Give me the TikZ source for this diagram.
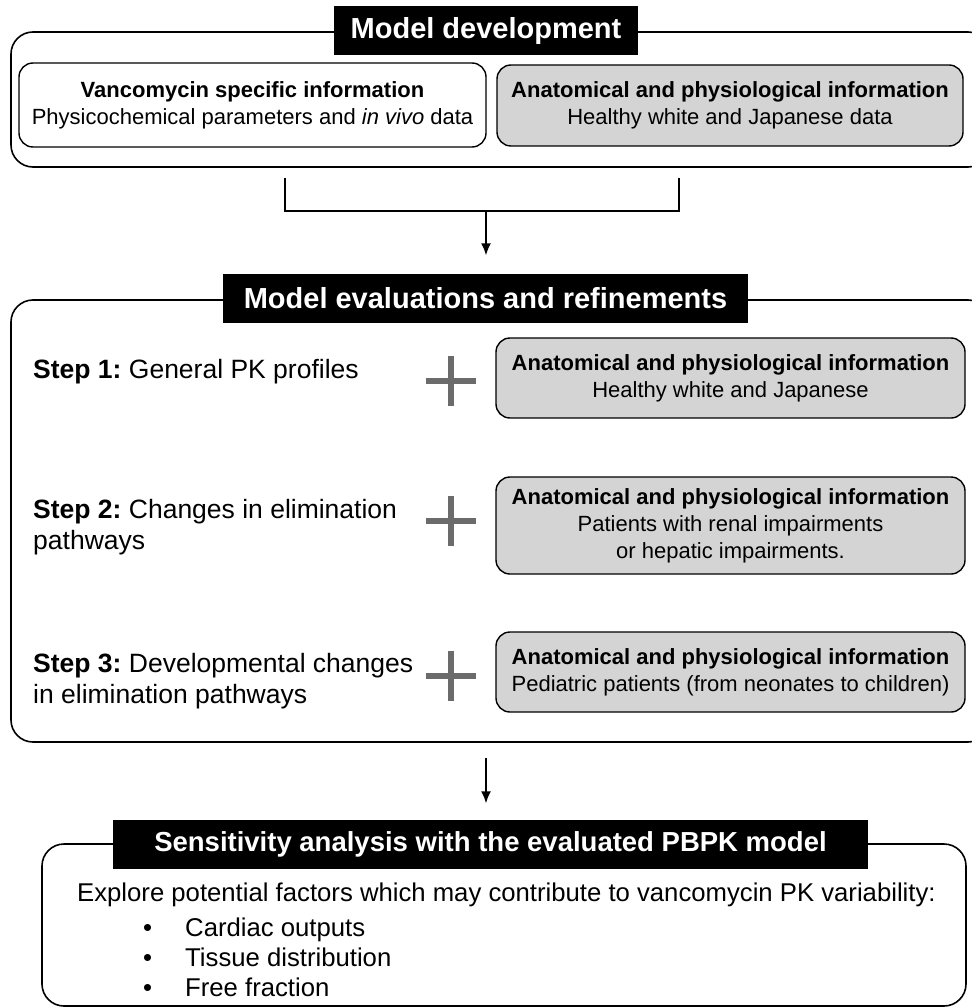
\documentclass[tikz,border=0pt]{standalone}
\usepackage{fontspec}
\setmainfont{Liberation Sans}
\usetikzlibrary{arrows.meta,positioning,calc}
\definecolor{boxgray}{HTML}{D4D4D4}
\definecolor{plusgray}{HTML}{6B6B6B}

\begin{document}
\begin{tikzpicture}[x=1pt,y=-1pt,>={Latex[length=12pt,width=10pt]},
    frame/.style={draw,line width=1.6pt,rounded corners=22pt,inner sep=0pt},
    banner/.style={fill=black,text=white,inner sep=0pt,minimum height=49pt,font=\fontsize{29}{34}\selectfont\bfseries},
    infobox/.style={draw,line width=1.4pt,rounded corners=14pt,fill=boxgray,align=center,inner sep=0pt,font=\fontsize{22}{27}\selectfont},
    steptext/.style={anchor=west,align=left,inner sep=0pt,font=\fontsize{26.5}{31}\selectfont},
    plussign/.style={minimum size=50pt,inner sep=0pt},
    plusbar/.style={line width=5.5pt,plusgray},
    link/.style={line width=1.6pt}]
  \useasboundingbox (0,0) rectangle (971,1008);

  % model development
  \node[frame,minimum width=979pt,minimum height=135pt] (devframe) at (500.5,99.5) {};
  \node[banner,minimum width=304pt] (devbanner) at (486,31) {Model development};
  \node[infobox,fill=white,minimum width=467pt,minimum height=84pt] (vanco) at (252.5,105) {\textbf{Vancomycin specific information}\\Physicochemical parameters and \textit{in vivo} data};
  \node[infobox,minimum width=466pt,minimum height=81pt] (anat0) at (730,105.5) {\textbf{Anatomical and physiological information}\\Healthy white and Japanese data};

  \coordinate (bl) at (285,178);
  \coordinate (br) at (679,178);
  \coordinate (bj) at (486,211);
  \draw[link] (bl) -- (bl|-bj) -- (br|-bj) -- (br);

  % model evaluations
  \node[frame,minimum width=979pt,minimum height=442pt] (evalframe) at (500.5,521) {};
  \node[banner,minimum width=525pt] (evalbanner) at (485.5,298) {Model evaluations and refinements};
  \draw[link,->,shorten >=18pt] (bj) -- (bj|-evalbanner.north);

  \node[steptext] (step1) at (33,372) {\textbf{Step 1:}~General PK profiles};
  \node[steptext] (step2) at (33,527) {\textbf{Step 2:}~Changes in elimination\\pathways};
  \node[steptext] (step3) at (33,681) {\textbf{Step 3:}~Developmental changes\\in elimination pathways};

  \node[infobox,minimum width=469pt,minimum height=80pt] (anat1) at (730.5,378) {\textbf{Anatomical and physiological information}\\Healthy white and Japanese};
  \node[infobox,minimum width=469pt,minimum height=97pt] (anat2) at (730.5,525.5) {\textbf{Anatomical and physiological information}\\Patients with renal impairments\\or hepatic impairments.};
  \node[infobox,minimum width=469pt,minimum height=80pt] (anat3) at (730.5,672) {\textbf{Anatomical and physiological information}\\Pediatric patients (from neonates to children)};

  \foreach \i/\y in {1/381,2/521,3/676}{
    \node[plussign] (plus\i) at (451,\y) {};
    \draw[plusbar] (plus\i.west) -- (plus\i.east) (plus\i.north) -- (plus\i.south);
  }

  % sensitivity analysis
  \node[frame,minimum width=924pt,minimum height=162pt] (sensframe) at (504,925) {};
  \node[banner,minimum width=755pt,font=\fontsize{27.5}{33}\selectfont\bfseries] (sensbanner) at (490.5,844) {Sensitivity analysis with the evaluated PBPK model};
  \draw[link,->,shorten <=15pt,shorten >=16pt] (evalframe.south-|bj) -- (bj|-sensbanner.north);

  \node[anchor=west,inner sep=0pt,font=\fontsize{25.7}{30}\selectfont] (explore) at (77,895) {Explore potential factors which may contribute to vancomycin PK variability:};
  \node[anchor=west,align=left,inner sep=0pt,font=\fontsize{25.7}{30}\selectfont] (factors) at (143,957) {\textbullet\hspace{33pt}Cardiac outputs\\\textbullet\hspace{33pt}Tissue distribution\\\textbullet\hspace{33pt}Free fraction};
\end{tikzpicture}
\end{document}
